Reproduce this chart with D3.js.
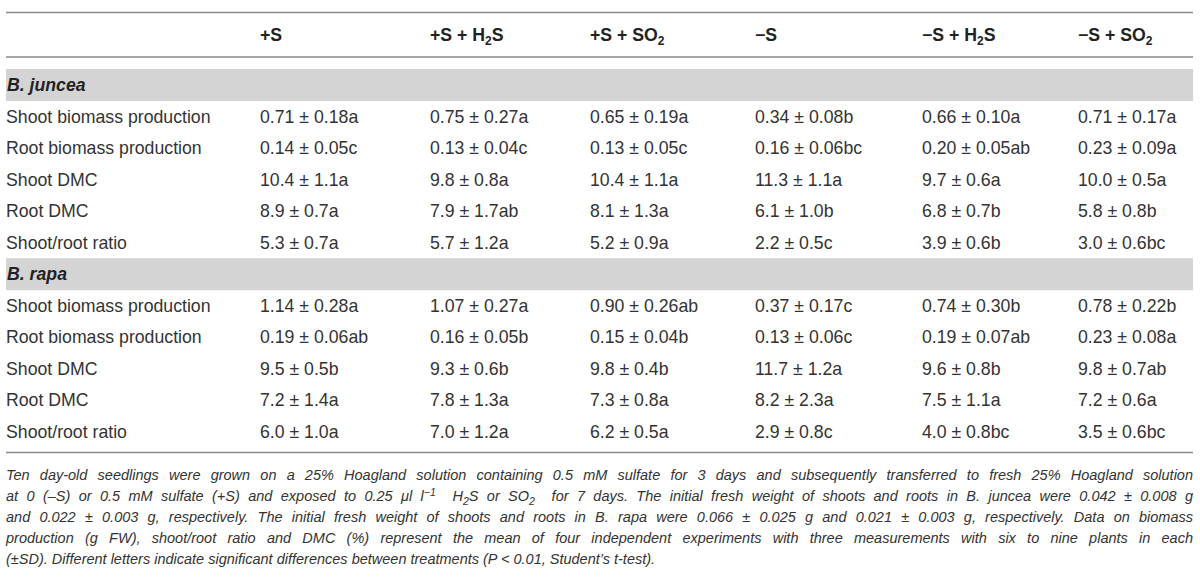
<!DOCTYPE html>
<html><head><meta charset="utf-8">
<script src="https://cdn.jsdelivr.net/npm/d3@7"></script>
<style>body{margin:0;background:#fff}svg{display:block}</style>
</head><body>
<svg id="c" width="1200" height="581"></svg>
<script>
// ---- data ----
const treatments = [["+S",""],["+S + H","2","S"],["+S + SO","2",""],["\u2212S",""],["\u2212S + H","2","S"],["\u2212S + SO","2",""]];
const variables = ["Shoot biomass production","Root biomass production","Shoot DMC","Root DMC","Shoot/root ratio"];
const decimals = [2,2,1,1,1];
const species = ["B. juncea","B. rapa"];
const junceaMean = [[0.71,0.75,0.65,0.34,0.66,0.71],[0.14,0.13,0.13,0.16,0.20,0.23],[10.4,9.8,10.4,11.3,9.7,10.0],[8.9,7.9,8.1,6.1,6.8,5.8],[5.3,5.7,5.2,2.2,3.9,3.0]];
const junceaSD   = [[0.18,0.27,0.19,0.08,0.10,0.17],[0.05,0.04,0.05,0.06,0.05,0.09],[1.1,0.8,1.1,1.1,0.6,0.5],[0.7,1.7,1.3,1.0,0.7,0.8],[0.7,1.2,0.9,0.5,0.6,0.6]];
const junceaLet  = [["a","a","a","b","a","a"],["c","c","c","bc","ab","a"],["a","a","a","a","a","a"],["a","ab","a","b","b","b"],["a","a","a","c","b","bc"]];
const rapaMean = [[1.14,1.07,0.90,0.37,0.74,0.78],[0.19,0.16,0.15,0.13,0.19,0.23],[9.5,9.3,9.8,11.7,9.6,9.8],[7.2,7.8,7.3,8.2,7.5,7.2],[6.0,7.0,6.2,2.9,4.0,3.5]];
const rapaSD   = [[0.28,0.27,0.26,0.17,0.30,0.22],[0.06,0.05,0.04,0.06,0.07,0.08],[0.5,0.6,0.4,1.2,0.8,0.7],[1.4,1.3,0.8,2.3,1.1,0.6],[1.0,1.2,0.5,0.8,0.8,0.6]];
const rapaLet  = [["a","a","ab","c","b","b"],["ab","b","b","c","ab","a"],["b","b","b","a","b","ab"],["a","a","a","a","a","a"],["a","a","a","c","bc","bc"]];
const footnote = [
 [["Ten day-old seedlings were grown on a 25% Hoagland solution containing 0.5 mM sulfate for 3 days and subsequently transferred to fresh 25% Hoagland solution"]],
 [["at 0 (\u2013S) or 0.5 mM sulfate (+S) and exposed to 0.25 \u03bcl l"],["\u22121","sup"],["  H"],["2","sub"],["S or SO"],["2","sub"],["  for 7 days. The initial fresh weight of shoots and roots in B. juncea were 0.042 \u00b1 0.008 g"]],
 [["and 0.022 \u00b1 0.003 g, respectively. The initial fresh weight of shoots and roots in B. rapa were 0.066 \u00b1 0.025 g and 0.021 \u00b1 0.003 g, respectively. Data on biomass"]],
 [["production (g FW), shoot/root ratio and DMC (%) represent the mean of four independent experiments with three measurements with six to nine plants in each"]],
 [["(\u00b1SD). Different letters indicate significant differences between treatments (P < 0.01, Student\u2019s t-test)."]]
];

// ---- layout ----
const svg = d3.select("#c");
const font = "'Liberation Sans', Arial, sans-serif";
const ink = "#333333";
const L = 6, R = 1193;
const FS = 17.7;
const x = d3.scaleOrdinal().domain(d3.range(7)).range([L,260,430,590,755,922,1078]);
const y = d3.scaleLinear().domain([0,11]).range([85,432]);
const ruleColor = "#8a8a8a";

function rule(yy){ svg.append("line").attr("x1",L).attr("x2",R).attr("y1",yy).attr("y2",yy).attr("stroke",ruleColor).attr("stroke-width",1.5); }
rule(12.5); rule(57); rule(452.5);

// header
treatments.forEach((t,i)=>{
  const tx = svg.append("text").attr("x",x(i+1)).attr("y",41).attr("font-family",font).attr("font-weight","bold").attr("font-size",FS).attr("fill","#222");
  tx.append("tspan").text(t[0]);
  if(t[1]){ tx.append("tspan").attr("font-size",FS*0.68).attr("dy",4).text(t[1]); tx.append("tspan").attr("dy",-4).text(t[2]); }
});

const fmt = d=>d3.format("."+d+"f");
const groups = [[junceaMean,junceaSD,junceaLet],[rapaMean,rapaSD,rapaLet]];
species.forEach((sp,g)=>{
  const base = g*6;
  svg.append("rect").attr("x",L).attr("width",R-L).attr("y",y(base)-16).attr("height",32).attr("fill","#d4d4d4");
  svg.append("text").attr("x",L+1).attr("y",y(base)+6).attr("font-family",font).attr("font-weight","bold").attr("font-style","italic").attr("font-size",FS).attr("fill","#222").text(sp);
  const [M,S,Lt] = groups[g];
  variables.forEach((v,r)=>{
    const yy = y(base+1+r)+6;
    svg.append("text").attr("x",L).attr("y",yy).attr("font-family",font).attr("font-size",FS).attr("fill",ink).text(v);
    M[r].forEach((m,c)=>{
      svg.append("text").attr("x",x(c+1)).attr("y",yy).attr("font-family",font).attr("font-size",FS).attr("fill",ink)
        .text(fmt(decimals[r])(m)+" \u00b1 "+fmt(decimals[r])(S[r][c])+Lt[r][c]);
    });
  });
});

// footnote
footnote.forEach((parts,i)=>{
  const t = svg.append("text").attr("x",L).attr("y",480+i*21).attr("font-family",font).attr("font-style","italic").attr("font-size",14.5).attr("fill",ink).attr("xml:space","preserve");
  parts.forEach((p,k)=>{
    const ts = t.append("tspan").text(p[0]);
    const prev = k>0 ? parts[k-1][1] : null;
    if(p[1]==="sup"){ ts.attr("font-size",10.5).attr("dy",-5.5); }
    else if(p[1]==="sub"){ ts.attr("font-size",10.5).attr("dy",3.5); }
    else if(prev==="sup"){ ts.attr("dy",5.5); }
    else if(prev==="sub"){ ts.attr("dy",-3.5); }
  });
  if(i<footnote.length-1){
    const w = t.node().getComputedTextLength();
    const txt = parts.map(p=>p[0]).join("");
    const n = (txt.match(/ /g)||[]).length;
    t.attr("word-spacing",((R-L)-w)/n);
  }
});
</script>
</body></html>
